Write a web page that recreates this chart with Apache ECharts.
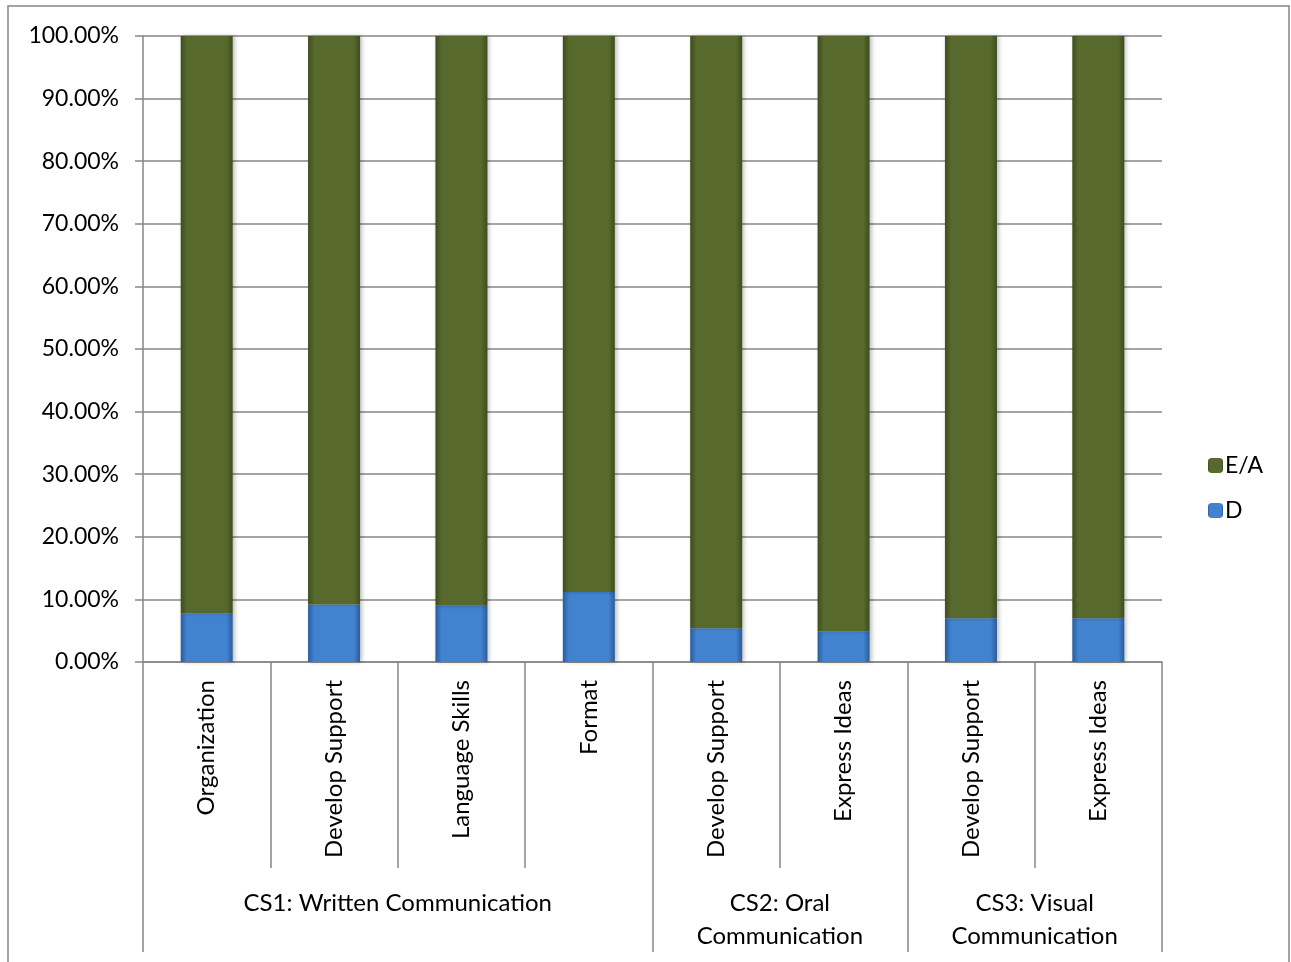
<!DOCTYPE html>
<html>
<head>
<meta charset="utf-8">
<script src="https://cdn.jsdelivr.net/npm/echarts@6/dist/echarts.min.js"></script>
<style>
  html, body { margin: 0; padding: 0; background: #fff; }
  #chart { width: 1291px; height: 962px; }
</style>
</head>
<body>
<div id="chart"></div>
<script>
// categories (sub-skills) and their groups
const categories = ['Organization', 'Develop Support', 'Language Skills', 'Format',
  'Develop Support', 'Express Ideas', 'Develop Support', 'Express Ideas'];
const groups = ['CS1: Written Communication', 'CS2: Oral\nCommunication', 'CS3: Visual\nCommunication'];
const groupSizes = [4, 2, 2];

// share of D (percent), E/A is the rest
const dValues = [7.8, 9.2, 9.0, 11.2, 5.4, 4.9, 7.0, 7.0];
const eaValues = [92.2, 90.8, 91.0, 88.8, 94.6, 95.1, 93.0, 93.0];

const yTicks = [0, 10, 20, 30, 40, 50, 60, 70, 80, 90, 100];

// second axis: boundary points 0..8, group labels at group centres
let groupAxisData = [];
let boundaryIdx = [0];
let labelIdx = [];
let pos = 0;
groupSizes.forEach(function (n, i) {
  labelIdx.push(pos + n / 2);
  pos += n;
  boundaryIdx.push(pos);
});
for (let i = 0; i <= categories.length; i++) {
  let g = labelIdx.indexOf(i);
  groupAxisData.push(g >= 0 ? groups[g] : '');
}

const gray = '#868686';
const font = 'Lato, "Open Sans", sans-serif';

let chartDom = document.getElementById('chart');
let myChart = echarts.init(chartDom);

function barGrad(edge, mid) {
  return new echarts.graphic.LinearGradient(0, 0, 1, 0, [
    { offset: 0, color: edge },
    { offset: 0.12, color: mid },
    { offset: 0.88, color: mid },
    { offset: 1, color: edge }
  ]);
}

let option = {
  animation: false,
  textStyle: { fontFamily: font },
  graphic: [{
    type: 'rect',
    shape: { x: 8, y: 6, width: 1281, height: 960 },
    style: { fill: 'none', stroke: gray, lineWidth: 1.5 },
    silent: true
  }],
  legend: {
    orient: 'vertical',
    left: 1203,
    top: 449,
    itemWidth: 15,
    itemHeight: 15,
    itemGap: 22,
    data: ['E/A', 'D'],
    textStyle: { fontSize: 23, color: '#000', fontFamily: font, padding: [0, 0, 0, -3] }
  },
  grid: { left: 143, right: 129, top: 36, bottom: 300 },
  xAxis: [
    {
      type: 'category',
      data: categories,
      axisLine: { show: true, lineStyle: { color: gray, width: 1.5 } },
      axisTick: { show: true, length: 206, lineStyle: { color: gray, width: 1.5 } },
      axisLabel: { rotate: 90, margin: 18, fontSize: 24, color: '#000', fontFamily: font }
    },
    {
      type: 'category',
      position: 'bottom',
      boundaryGap: false,
      data: groupAxisData,
      axisLine: { show: false },
      axisTick: {
        show: true,
        length: 290,
        interval: function (idx) { return boundaryIdx.indexOf(idx) >= 0; },
        lineStyle: { color: gray, width: 1.5 }
      },
      axisLabel: {
        interval: function (idx) { return labelIdx.indexOf(idx) >= 0; },
        margin: 225,
        fontSize: 24,
        lineHeight: 33,
        verticalAlign: 'top',
        color: '#000',
        fontFamily: font
      }
    }
  ],
  yAxis: {
    type: 'value',
    min: 0,
    max: 100,
    interval: 10,
    axisLine: { show: true, lineStyle: { color: gray, width: 1.5 } },
    axisTick: { show: true, length: 8, lineStyle: { color: gray, width: 1.5 } },
    axisLabel: {
      fontSize: 23,
      color: '#000',
      margin: 24,
      fontFamily: font,
      formatter: function (v) { return v.toFixed(2) + '%'; }
    },
    splitLine: { lineStyle: { color: gray, width: 1.5 } }
  },
  series: [
    {
      name: 'D',
      type: 'bar',
      stack: 'total',
      barWidth: 52,
      data: dValues,
      itemStyle: {
        color: barGrad('#2a5c9e', '#4283d0'),
        shadowBlur: 4,
        shadowOffsetX: 2,
        shadowColor: 'rgba(0,0,0,0.25)'
      }
    },
    {
      name: 'E/A',
      type: 'bar',
      stack: 'total',
      barWidth: 52,
      data: eaValues,
      itemStyle: {
        color: barGrad('#3e4d1c', '#58692d'),
        shadowBlur: 4,
        shadowOffsetX: 2,
        shadowColor: 'rgba(0,0,0,0.25)'
      }
    }
  ]
};

myChart.setOption(option);
</script>
</body>
</html>
